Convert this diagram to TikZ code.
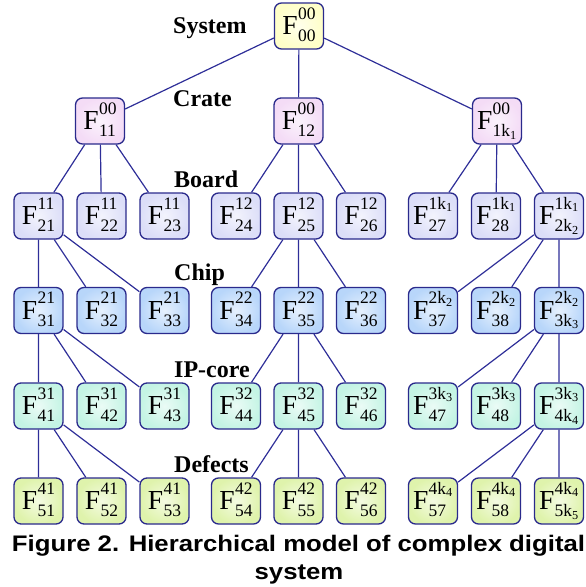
\documentclass[tikz,border=0pt]{standalone}
\usepackage{fontspec}
\setmainfont{Liberation Serif}
\newfontfamily\capfont{Liberation Sans}

% F with a superscript/subscript index stack
\newcommand{\FF}[2]{{\fontsize{27.5}{27.5}\selectfont F}\kern0.3pt\raisebox{-7pt}{\fontsize{17.5}{22.5}\selectfont\begin{tabular}[b]{@{}l@{}}#1\\#2\end{tabular}}}
\newcommand{\kk}[1]{k\textsubscript{#1}}

\definecolor{bdr}{HTML}{2A2A8C}
\definecolor{edg}{HTML}{2E2E98}
\definecolor{csys}{HTML}{FFFFC8}
\definecolor{ccrate}{HTML}{F4DCF6}
\definecolor{cboard}{HTML}{DCDEF8}
\definecolor{cchip}{HTML}{B8D6FA}
\definecolor{cip}{HTML}{C4F4E4}
\definecolor{cdef}{HTML}{DFF3AC}

\tikzset{
  box/.style={draw=bdr, line width=1.3pt, rounded corners=7pt,
    minimum width=49pt, minimum height=46pt, inner sep=0pt,
    inner color=#1!35!white, outer color=#1},
  link/.style={draw=edg, line width=1.2pt},
  level/.style={font=\fontsize{24}{24}\selectfont\bfseries, anchor=base west, inner sep=0pt},
  caption/.style={font=\capfont\bfseries\fontsize{22.5}{24}\selectfont, anchor=base, inner sep=0pt,
    xscale=1.144, transform shape}
}

\begin{document}
\begin{tikzpicture}[x=1pt,y=-1pt]
\useasboundingbox (0,0) rectangle (586,587);

% level labels
\node[level] (lsys) at (173,33) {System};
\node[level] (lcrate) at (173,106) {Crate};
\node[level] (lboard) at (174,187) {Board};
\node[level] (lchip) at (174,280) {Chip};
\node[level] (lip) at (174,377) {IP-core};
\node[level] (ldef) at (174,472) {Defects};

% system
\node[box=csys] (f00) at (299,26) {\FF{00}{00}};

% crates
\node[box=ccrate] (f11) at (100,121) {\FF{00}{11}};
\node[box=ccrate] (f12) at (298.5,121) {\FF{00}{12}};
\node[box=ccrate] (f1k) at (497,121) {\FF{00}{1\kk{1}}};

% boards
\node[box=cboard] (f21) at (38.5,216) {\FF{11}{21}};
\node[box=cboard] (f22) at (101.5,216) {\FF{11}{22}};
\node[box=cboard] (f23) at (164.5,216) {\FF{11}{23}};
\node[box=cboard] (f24) at (236,216) {\FF{12}{24}};
\node[box=cboard] (f25) at (298.5,216) {\FF{12}{25}};
\node[box=cboard] (f26) at (361,216) {\FF{12}{26}};
\node[box=cboard] (f27) at (433,216) {\FF{1\kk{1}}{27}};
\node[box=cboard] (f28) at (496,216) {\FF{1\kk{1}}{28}};
\node[box=cboard] (f2k) at (559,216) {\FF{1\kk{1}}{2\kk{2}}};

% chips
\node[box=cchip] (f31) at (38.5,310.5) {\FF{21}{31}};
\node[box=cchip] (f32) at (101.5,310.5) {\FF{21}{32}};
\node[box=cchip] (f33) at (164.5,310.5) {\FF{21}{33}};
\node[box=cchip] (f34) at (236,310.5) {\FF{22}{34}};
\node[box=cchip] (f35) at (298.5,310.5) {\FF{22}{35}};
\node[box=cchip] (f36) at (361,310.5) {\FF{22}{36}};
\node[box=cchip] (f37) at (433,310.5) {\FF{2\kk{2}}{37}};
\node[box=cchip] (f38) at (496,310.5) {\FF{2\kk{2}}{38}};
\node[box=cchip] (f3k) at (559,310.5) {\FF{2\kk{2}}{3\kk{3}}};

% IP-cores
\node[box=cip] (f41) at (38.5,406) {\FF{31}{41}};
\node[box=cip] (f42) at (101.5,406) {\FF{31}{42}};
\node[box=cip] (f43) at (164.5,406) {\FF{31}{43}};
\node[box=cip] (f44) at (236,406) {\FF{32}{44}};
\node[box=cip] (f45) at (298.5,406) {\FF{32}{45}};
\node[box=cip] (f46) at (361,406) {\FF{32}{46}};
\node[box=cip] (f47) at (433,406) {\FF{3\kk{3}}{47}};
\node[box=cip] (f48) at (496,406) {\FF{3\kk{3}}{48}};
\node[box=cip] (f4k) at (559,406) {\FF{3\kk{3}}{4\kk{4}}};

% defects
\node[box=cdef] (f51) at (38.5,501) {\FF{41}{51}};
\node[box=cdef] (f52) at (101.5,501) {\FF{41}{52}};
\node[box=cdef] (f53) at (164.5,501) {\FF{41}{53}};
\node[box=cdef] (f54) at (236,501) {\FF{42}{54}};
\node[box=cdef] (f55) at (298.5,501) {\FF{42}{55}};
\node[box=cdef] (f56) at (361,501) {\FF{42}{56}};
\node[box=cdef] (f57) at (433,501) {\FF{4\kk{4}}{57}};
\node[box=cdef] (f58) at (496,501) {\FF{4\kk{4}}{58}};
\node[box=cdef] (f5k) at (559,501) {\FF{4\kk{4}}{5\kk{5}}};

% tree links
\foreach \p/\a/\b/\c in {f00/f11/f12/f1k,
  f11/f21/f22/f23, f12/f24/f25/f26, f1k/f27/f28/f2k,
  f21/f31/f32/f33, f25/f34/f35/f36, f2k/f37/f38/f3k,
  f31/f41/f42/f43, f35/f44/f45/f46, f3k/f47/f48/f4k,
  f41/f51/f52/f53, f45/f54/f55/f56, f4k/f57/f58/f5k}{
  \path[link] (\p) -- (\a) (\p) -- (\b) (\p) -- (\c);
}

% caption
\node[caption] (cap1) at (298.5,551) {Figure 2. Hierarchical model of complex digital};
\node[caption] (cap2) at (299,579) {system};
\end{tikzpicture}
\end{document}
